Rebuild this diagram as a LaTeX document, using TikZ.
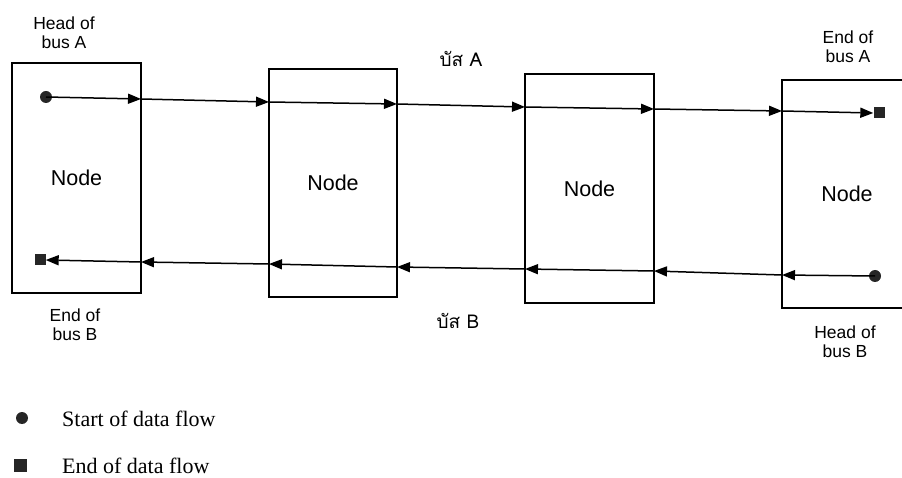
\documentclass[tikz,border=0pt]{standalone}
\usepackage{fontspec}
\setmainfont{Liberation Serif}
\newfontfamily\labelfont{Liberation Sans}
\newfontfamily\thaifont[Script=Thai]{Loma}
\usetikzlibrary{arrows.meta}
\tikzset{
  box/.style={draw, line width=1.3pt, inner sep=0pt},
  bus/.style={line width=1.5pt, -{Triangle[length=13pt,width=10pt]}},
  startdot/.style={circle, fill=black!85, inner sep=0pt, minimum size=12pt},
  enddot/.style={rectangle, fill=black!85, inner sep=0pt, minimum size=11pt},
  lbl/.style={align=center, font=\labelfont\fontsize{17.5}{19}\selectfont, inner sep=0pt},
  nodetext/.style={font=\labelfont\fontsize{21.5}{24}\selectfont},
  thai/.style={font=\thaifont\fontsize{19}{21}\selectfont, inner sep=0pt},
  legend/.style={anchor=west, font=\fontsize{22}{24}\selectfont, inner sep=0pt}
}
\begin{document}
\begin{tikzpicture}[x={(1pt,0)}, y={(0,-1pt)}]
\useasboundingbox (0,0) rectangle (902,478);
% boxes
\node[box, minimum width=129pt, minimum height=230pt, nodetext] (n1) at (76.5,178) {Node};
\node[box, minimum width=128pt, minimum height=228pt, nodetext] (n2) at (333,183) {Node};
\node[box, minimum width=129pt, minimum height=229pt, nodetext] (n3) at (589.5,188.5) {Node};
\node[box, minimum width=130pt, minimum height=228pt, nodetext] (n4) at (847,194) {Node};
% bus A
\node[startdot] (hA) at (46,97) {};
\node[enddot] (eA) at (879,113) {};
\coordinate (a1) at (141,99);
\coordinate (a2) at (269,102);
\coordinate (a3) at (397,104);
\coordinate (a4) at (525,107);
\coordinate (a5) at (654,109);
\coordinate (a6) at (782,111);
\draw[bus] (hA.center) -- (a1);
\draw[bus] (a1) -- (a2);
\draw[bus] (a2) -- (a3);
\draw[bus] (a3) -- (a4);
\draw[bus] (a4) -- (a5);
\draw[bus] (a5) -- (a6);
\draw[bus] (a6) -- (eA.west);
% bus B
\node[startdot] (hB) at (875,276) {};
\node[enddot] (eB) at (40,260) {};
\coordinate (b1) at (782,275);
\coordinate (b2) at (654,271);
\coordinate (b3) at (525,269);
\coordinate (b4) at (397,267);
\coordinate (b5) at (269,264);
\coordinate (b6) at (141,262);
\draw[bus] (hB.center) -- (b1);
\draw[bus] (b1) -- (b2);
\draw[bus] (b2) -- (b3);
\draw[bus] (b3) -- (b4);
\draw[bus] (b4) -- (b5);
\draw[bus] (b5) -- (b6);
\draw[bus] (b6) -- (eB.east);
% labels
\node[lbl] (lhA) at (64,33) {Head of\\bus A};
\node[lbl] (leA) at (848,47) {End of\\bus A};
\node[lbl] (leB) at (75,325) {End of\\bus B};
\node[lbl] (lhB) at (845,342) {Head of\\bus B};
\node[thai] (tA) at (461,59) {บัส A};
\node[thai] (tB) at (458,321) {บัส B};
% legend
\node[startdot] (ls) at (22,418) {};
\node[enddot, minimum size=13pt] (le) at (20,465) {};
\node[legend] (lst) at (62,419) {Start of data flow};
\node[legend] (let) at (62,466) {End of data flow};
\end{tikzpicture}
\end{document}
